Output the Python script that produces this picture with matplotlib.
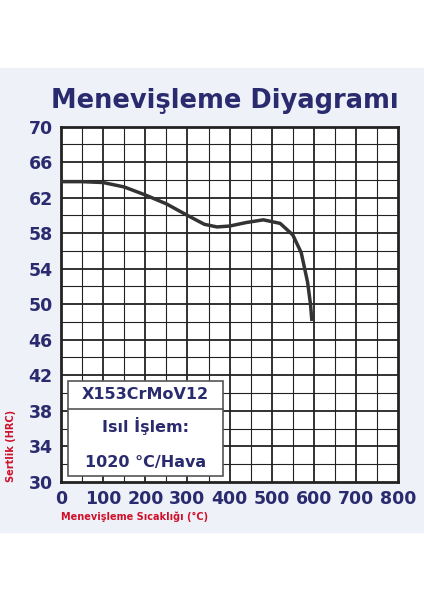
import matplotlib
matplotlib.use("Agg")
import matplotlib.pyplot as plt
from matplotlib.patches import Rectangle
import numpy as np

temps = [0, 50, 100, 150, 200, 250, 300, 340, 370, 400, 440, 480, 520, 550, 570, 585, 592, 595]
hrc = [63.8, 63.8, 63.7, 63.2, 62.3, 61.3, 60.0, 59.0, 58.7, 58.8, 59.2, 59.5, 59.1, 57.8, 55.8, 52.5, 50.0, 48.3]
xticks = [0, 100, 200, 300, 400, 500, 600, 700, 800]
yticks = [30, 34, 38, 42, 46, 50, 54, 58, 62, 66, 70]
navy = "#2a2b6e"
red = "#d0102a"

fig = plt.figure(figsize=(4.24, 6), dpi=100)
bg = Rectangle((0, 0.113), 1, 0.774, transform=fig.transFigure, color="#eef1f8", zorder=-10)
fig.add_artist(bg)
ax = fig.add_axes([0.144, 0.197, 0.795, 0.592])
ax.set_facecolor("white")
ax.set_xlim(0, 800)
ax.set_ylim(30, 70)
for x in range(50, 800, 50):
    ax.axvline(x, color="#222", lw=1.3 if x % 100 == 0 else 0.8, zorder=1)
for y in range(32, 70, 2):
    ax.axhline(y, color="#222", lw=1.3 if (y - 30) % 4 == 0 else 0.8, zorder=1)
for s in ax.spines.values():
    s.set_linewidth(2); s.set_color("#222")
ax.plot(temps, hrc, color="#333", lw=2.5, zorder=3)
ax.set_xticks(xticks); ax.set_yticks(yticks)
ax.tick_params(length=0, labelsize=12.5, labelcolor=navy, pad=6)
for t in ax.get_xticklabels() + ax.get_yticklabels():
    t.set_fontweight("bold")
ax.set_xlabel("Menevişleme Sıcaklığı (°C)", color=red, fontsize=7, fontweight="bold")
ax.set_ylabel("Sertlik (HRC)", color=red, fontsize=7, fontweight="bold")
ax.xaxis.set_label_coords(0.0, -0.085)
ax.xaxis.label.set_horizontalalignment("left")
ax.yaxis.set_label_coords(-0.135, 0.0)
ax.yaxis.label.set_verticalalignment("bottom")
ax.yaxis.label.set_horizontalalignment("left")
ax.add_patch(Rectangle((17, 30.6), 368, 10.8, facecolor="white", edgecolor="#555", lw=1.2, zorder=4))
ax.plot([17, 385], [38.2, 38.2], color="#555", lw=1.2, zorder=5)
ax.text(201, 39.8, "X153CrMoV12", ha="center", va="center", color=navy, fontsize=11.5, fontweight="bold", zorder=6)
ax.text(201, 36.3, "Isıl İşlem:", ha="center", va="center", color=navy, fontsize=11.5, fontweight="bold", zorder=6)
ax.text(201, 32.2, "1020 °C/Hava", ha="center", va="center", color=navy, fontsize=11.5, fontweight="bold", zorder=6)
fig.text(0.53, 0.832, "Menevişleme Diyagramı", ha="center", va="center", color=navy,
         fontsize=18.5, fontweight="bold")
fig.savefig("out.png", dpi=100)
